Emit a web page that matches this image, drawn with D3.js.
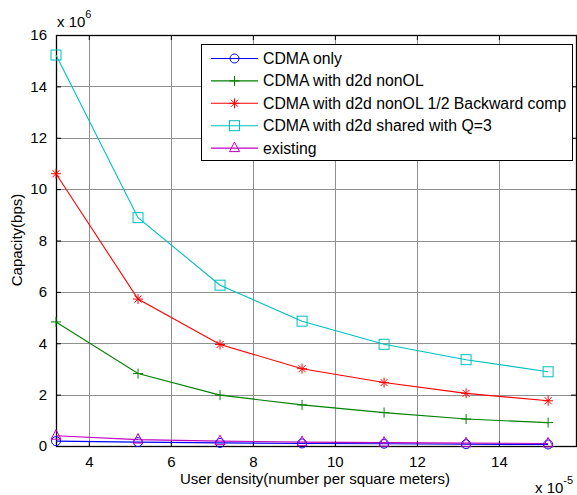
<!DOCTYPE html>
<html><head><meta charset="utf-8">
<script src="https://cdn.jsdelivr.net/npm/d3@7"></script>
<style>body{margin:0;background:#fff;} svg{display:block;} text{font-family:"Liberation Sans",Arial,sans-serif;}</style>
</head><body><svg id="c" width="577" height="495"></svg>
<script>
const xValues = [3.2, 5.2, 7.2, 9.2, 11.2, 13.2, 15.2];
const cdmaOnly = [0.19, 0.15, 0.12, 0.10, 0.09, 0.07, 0.06];
const d2dNonOL = [4.83, 2.82, 1.98, 1.60, 1.30, 1.05, 0.91];
const d2dBackward = [10.6, 5.72, 3.95, 3.01, 2.47, 2.05, 1.76];
const d2dShared = [15.22, 8.89, 6.26, 4.86, 3.96, 3.36, 2.89];
const existing = [0.40, 0.25, 0.19, 0.15, 0.13, 0.11, 0.10];
const seriesNames = ["CDMA only","CDMA with d2d nonOL","CDMA with d2d nonOL 1/2 Backward comp","CDMA with d2d shared with Q=3","existing"];
const xTicks = [4, 6, 8, 10, 12, 14];
const yTicks = [0, 2, 4, 6, 8, 10, 12, 14, 16];

const series = [
  {name: seriesNames[0], values: cdmaOnly, color: "#0000ff", marker: "circle"},
  {name: seriesNames[1], values: d2dNonOL, color: "#008000", marker: "plus"},
  {name: seriesNames[2], values: d2dBackward, color: "#ff0000", marker: "star"},
  {name: seriesNames[3], values: d2dShared, color: "#00bfbf", marker: "square"},
  {name: seriesNames[4], values: existing, color: "#bf00bf", marker: "triangle"}
];

const svg = d3.select("#c");
const L = 56, R = 576, T = 35, B = 446;
const x = d3.scaleLinear().domain([3.2, 15.88]).range([L, R]);
const y = d3.scaleLinear().domain([0, 16]).range([B, T]);

// grid
const g = svg.append("g");
g.selectAll(".vg").data(xTicks).enter().append("line")
  .attr("x1", d => Math.round(x(d)) + 0.5).attr("x2", d => Math.round(x(d)) + 0.5)
  .attr("y1", T).attr("y2", B).attr("stroke", "#8f8f8f").attr("stroke-width", 1);
g.selectAll(".hg").data(yTicks.filter(d => d > 0 && d < 16)).enter().append("line")
  .attr("y1", d => Math.round(y(d)) + 0.5).attr("y2", d => Math.round(y(d)) + 0.5)
  .attr("x1", L).attr("x2", R).attr("stroke", "#8f8f8f").attr("stroke-width", 1);

// axes
const xAxisB = d3.axisBottom(x).tickValues(xTicks).tickSize(-5).tickPadding(10).tickFormat(d3.format("d"));
const xAxisT = d3.axisTop(x).tickValues(xTicks).tickSize(-5).tickFormat("");
const yAxisL = d3.axisLeft(y).tickValues(yTicks).tickSize(-5).tickPadding(9).tickFormat(d3.format("d"));
const yAxisR = d3.axisRight(y).tickValues(yTicks).tickSize(-5).tickFormat("");

function styleAxis(sel) {
  sel.select(".domain").remove();
  sel.selectAll("line").attr("stroke", "#000");
  sel.selectAll("text").attr("font-size", "15px").attr("fill", "#000").attr("font-family", "Liberation Sans, Arial, sans-serif");
}
svg.append("g").attr("transform", `translate(0,${B})`).call(xAxisB).call(styleAxis);
svg.append("g").attr("transform", `translate(0,${T})`).call(xAxisT).call(styleAxis);
svg.append("g").attr("transform", `translate(${L},0)`).call(yAxisL).call(styleAxis);
svg.append("g").attr("transform", `translate(${R},0)`).call(yAxisR).call(styleAxis);

// box
svg.append("rect").attr("x", L + 0.5).attr("y", T + 0.5).attr("width", R - L).attr("height", B - T)
  .attr("fill", "none").attr("stroke", "#000").attr("stroke-width", 1.3);

// lines
const line = d3.line().x((d, i) => x(xValues[i])).y(d => y(d));
function drawMarker(sel, type, color, cx, cy) {
  const s = sel.append("g").attr("transform", `translate(${cx},${cy})`)
    .attr("fill", "none").attr("stroke", color).attr("stroke-width", 1);
  if (type === "circle") s.append("circle").attr("r", 4.5);
  else if (type === "square") s.append("rect").attr("x", -5).attr("y", -5).attr("width", 10).attr("height", 10);
  else if (type === "triangle") s.append("path").attr("d", "M0,-6L5,3.5L-5,3.5Z");
  else if (type === "plus") s.append("path").attr("d", "M-5,0H5M0,-5V5");
  else if (type === "star") s.append("path").attr("d", "M-5,0H5M0,-5V5M-3.5,-3.5L3.5,3.5M-3.5,3.5L3.5,-3.5");
}
series.forEach(sr => {
  svg.append("path").datum(sr.values).attr("d", line).attr("fill", "none")
    .attr("stroke", sr.color).attr("stroke-width", 1.1);
});
series.forEach(sr => {
  const mg = svg.append("g");
  sr.values.forEach((v, i) => drawMarker(mg, sr.marker, sr.color, x(xValues[i]), y(v)));
});

// legend
const lg = svg.append("g");
lg.append("rect").attr("x", 201.5).attr("y", 44.5).attr("width", 371).attr("height", 116)
  .attr("fill", "#fff").attr("stroke", "#000").attr("stroke-width", 1);
series.forEach((sr, i) => {
  const cy = 58.5 + i * 22.4;
  lg.append("line").attr("x1", 211).attr("x2", 258).attr("y1", cy).attr("y2", cy)
    .attr("stroke", sr.color).attr("stroke-width", 1.1);
  drawMarker(lg, sr.marker, sr.color, 234.5, cy);
  lg.append("text").attr("x", 263).attr("y", cy + 5.5).attr("font-size", "15.8px").text(sr.name);
});

// axis labels
svg.append("text").attr("x", 315).attr("y", 484).attr("text-anchor", "middle")
  .attr("font-size", "15px").text("User density(number per square meters)");
svg.append("text").attr("transform", `translate(22,240) rotate(-90)`).attr("text-anchor", "middle")
  .attr("font-size", "15px").text("Capacity(bps)");

// exponent labels
const e1 = svg.append("text").attr("x", 57).attr("y", 27).attr("font-size", "15px");
e1.append("tspan").text("x 10");
e1.append("tspan").attr("dy", -9).attr("font-size", "11px").text("6");
const e2 = svg.append("text").attr("x", 535).attr("y", 493).attr("font-size", "15px");
e2.append("tspan").text("x 10");
e2.append("tspan").attr("dy", -9).attr("font-size", "11px").text("-5");
</script></body></html>
